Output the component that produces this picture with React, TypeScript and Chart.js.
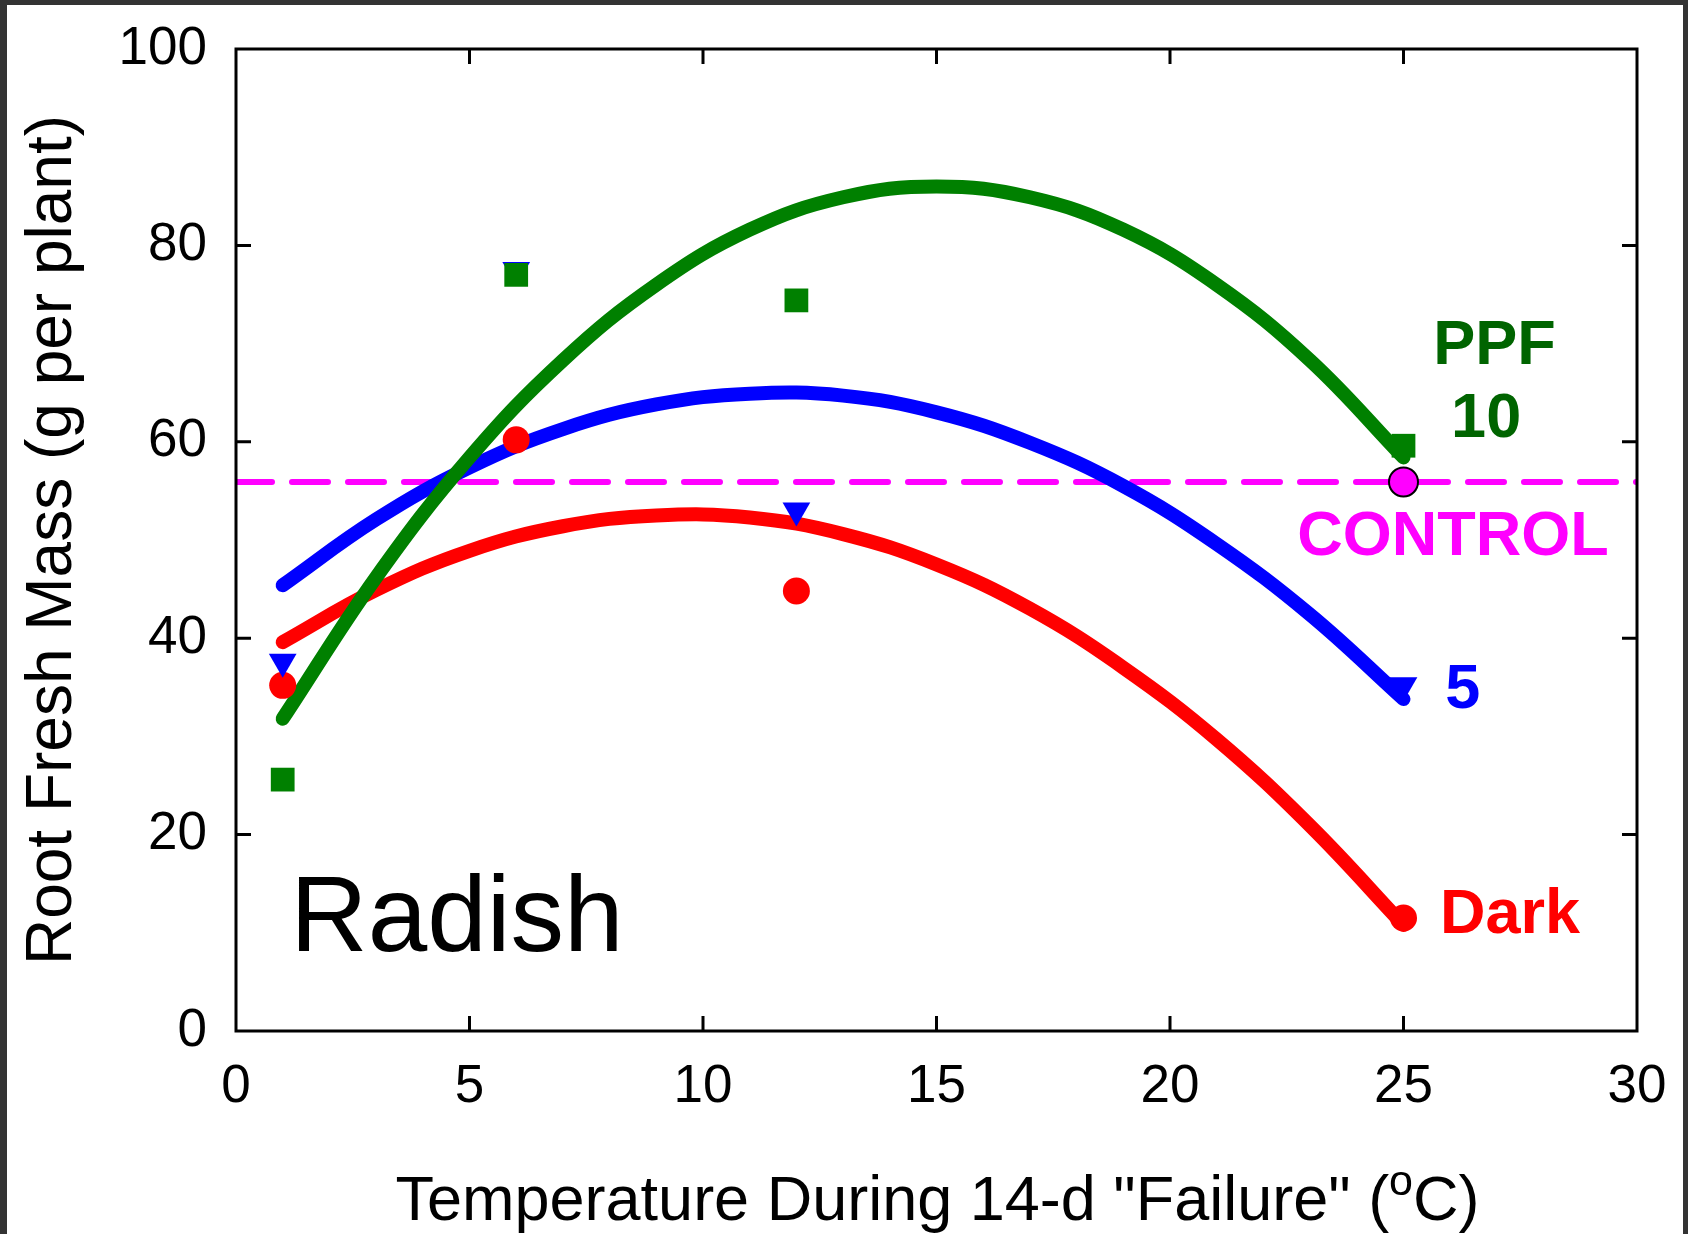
import React, { useEffect, useRef } from "react";
import { Chart, registerables } from "chart.js";

Chart.register(...registerables);

// ---- Data ----
const markerTemps = [1, 6, 12, 25];
const darkValues = [35.2, 60.2, 44.8, 11.5];
const ppf5Values = [37.6, 77.5, 53.0, 35.2];
const ppf10Values = [25.6, 77.0, 74.4, 59.6];

const controlTemp = 25;
const controlValue = 55.9;
const controlLineTemps = [0, 30];

// fitted curves, every 2 degrees
const fitTemps = [1, 3, 5, 7, 9, 11, 13, 15, 17, 19, 21, 23, 25];
const darkFit = [39.6, 44.9, 48.9, 51.4, 52.5, 52.3, 50.6, 47.5, 43.0, 37.0, 29.7, 20.9, 10.8];
const ppf5Fit = [45.4, 52.1, 57.4, 61.3, 63.8, 64.9, 64.7, 63.0, 59.9, 55.5, 49.6, 42.4, 33.8];
const ppf10Fit = [31.8, 46.2, 58.4, 68.3, 76.0, 81.6, 84.9, 86.0, 84.9, 81.6, 76.0, 68.3, 58.4];

const xTickValues = [0, 5, 10, 15, 20, 25, 30];
const yTickValues = [0, 20, 40, 60, 80, 100];

const yTitle = "Root Fresh Mass (g per plant)";
const xTitleMain = 'Temperature During 14-d "Failure" (';
const xTitleSup = "o";
const xTitleEnd = "C)";

const labelTexts = ["PPF", "10", "CONTROL", "5", "Dark", "Radish"];
const labelColors = ["#006400", "#006400", "#ff00ff", "#0000ff", "#ff0000", "#000000"];
const labelX = [26.95, 26.77, 26.06, 26.27, 27.28, 4.73];
const labelY = [69.7, 62.3, 50.2, 34.7, 11.7, 11.1];
const labelWeight = ["bold", "bold", "bold", "bold", "bold", "normal"];
const labelSize = [63, 63, 63, 63, 63, 107];

const FONT = "'Liberation Sans', Arial, Helvetica, sans-serif";

const toPts = (xs: number[], ys: number[]) => xs.map((x, i) => ({ x, y: ys[i] }));

const framePlugin = {
  id: "framePlugin",
  afterDraw(chart: any) {
    const { ctx, chartArea } = chart;
    const xs = chart.scales.x;
    const ys = chart.scales.y;
    const { left, right, top, bottom } = chartArea;
    ctx.save();
    ctx.strokeStyle = "#000";
    ctx.lineWidth = 3;
    ctx.strokeRect(left, top, right - left, bottom - top);
    const tl = 15;
    ctx.beginPath();
    xTickValues.forEach((v) => {
      if (v <= xs.min || v >= xs.max) return;
      const px = xs.getPixelForValue(v);
      ctx.moveTo(px, bottom);
      ctx.lineTo(px, bottom - tl);
      ctx.moveTo(px, top);
      ctx.lineTo(px, top + tl);
    });
    yTickValues.forEach((v) => {
      if (v <= ys.min || v >= ys.max) return;
      const py = ys.getPixelForValue(v);
      ctx.moveTo(left, py);
      ctx.lineTo(left + tl, py);
      ctx.moveTo(right, py);
      ctx.lineTo(right - tl, py);
    });
    ctx.stroke();

    // annotations
    ctx.textAlign = "center";
    ctx.textBaseline = "middle";
    labelTexts.forEach((t, i) => {
      ctx.font = `${labelWeight[i]} ${labelSize[i]}px ${FONT}`;
      ctx.fillStyle = labelColors[i];
      ctx.fillText(t, xs.getPixelForValue(labelX[i]), ys.getPixelForValue(labelY[i]));
    });

    // x axis title with superscript
    const mainFont = `63px ${FONT}`;
    const supFont = `43px ${FONT}`;
    ctx.textAlign = "left";
    ctx.textBaseline = "alphabetic";
    ctx.fillStyle = "#000";
    ctx.font = mainFont;
    const w1 = ctx.measureText(xTitleMain).width;
    const w3 = ctx.measureText(xTitleEnd).width;
    ctx.font = supFont;
    const w2 = ctx.measureText(xTitleSup).width;
    const total = w1 + w2 + w3;
    const cx = (left + right) / 2 + 1;
    const baseY = 1215;
    let sx = cx - total / 2;
    ctx.font = mainFont;
    ctx.fillText(xTitleMain, sx, baseY);
    sx += w1;
    ctx.font = supFont;
    ctx.fillText(xTitleSup, sx, baseY - 25);
    sx += w2;
    ctx.font = mainFont;
    ctx.fillText(xTitleEnd, sx, baseY);
    ctx.restore();
  },
};

export default function App() {
  const ref = useRef<HTMLCanvasElement | null>(null);

  useEffect(() => {
    if (!ref.current) return;
    Chart.defaults.font.family = FONT;
    const lineBase = {
      type: "line",
      borderWidth: 14,
      borderCapStyle: "round",
      borderJoinStyle: "round",
      tension: 0.4,
      pointRadius: 0,
      fill: false,
    };
    const chart = new Chart(ref.current, {
      type: "scatter",
      data: {
        datasets: [
          {
            type: "line",
            label: "Control",
            data: toPts(controlLineTemps, controlLineTemps.map(() => controlValue)),
            borderColor: "#ff00ff",
            borderWidth: 6,
            borderDash: [36, 20],
            borderCapStyle: "round",
            pointRadius: 0,
            fill: false,
            order: 9,
          },
          { ...lineBase, label: "Dark fit", data: toPts(fitTemps, darkFit), borderColor: "#ff0000", order: 8 },
          { ...lineBase, label: "PPF 5 fit", data: toPts(fitTemps, ppf5Fit), borderColor: "#0000ff", order: 7 },
          { ...lineBase, label: "PPF 10 fit", data: toPts(fitTemps, ppf10Fit), borderColor: "#008000", order: 6 },
          {
            label: "Dark",
            data: toPts(markerTemps, darkValues),
            pointStyle: "circle",
            pointRadius: 13.5,
            backgroundColor: "#ff0000",
            borderColor: "#ff0000",
            pointBorderWidth: 0,
            order: 5,
          },
          {
            label: "PPF 5",
            data: toPts(markerTemps, ppf5Values),
            pointStyle: "triangle",
            pointRotation: 180,
            pointRadius: 16,
            backgroundColor: "#0000ff",
            borderColor: "#0000ff",
            pointBorderWidth: 0,
            order: 4,
          },
          {
            label: "PPF 10",
            data: toPts(markerTemps, ppf10Values),
            pointStyle: "rect",
            pointRadius: 16.8,
            backgroundColor: "#008000",
            borderColor: "#008000",
            pointBorderWidth: 0,
            order: 3,
          },
          {
            label: "Control point",
            data: [{ x: controlTemp, y: controlValue }],
            pointStyle: "circle",
            pointRadius: 14.5,
            backgroundColor: "#ff00ff",
            borderColor: "#000000",
            pointBorderWidth: 2,
            order: 2,
          },
        ],
      } as any,
      options: {
        responsive: false,
        animation: false,
        devicePixelRatio: 1,
        layout: { padding: { top: 44, right: 46, bottom: 0, left: 0 } },
        plugins: {
          legend: { display: false },
          tooltip: { enabled: false },
        },
        scales: {
          x: {
            type: "linear",
            min: 0,
            max: 30,
            afterBuildTicks: (s: any) => {
              s.ticks = xTickValues.map((v) => ({ value: v }));
            },
            ticks: {
              font: { size: 53, family: FONT },
              color: "#000",
              padding: 25,
              maxRotation: 0,
              autoSkip: false,
            },
            grid: { display: false, drawTicks: false },
            border: { display: false },
            afterFit: (s: any) => {
              s.height = 203;
              s.paddingLeft = 0;
              s.paddingRight = 0;
              s.paddingTop = 0;
              s.paddingBottom = 0;
            },
          },
          y: {
            type: "linear",
            min: 0,
            max: 100,
            afterBuildTicks: (s: any) => {
              s.ticks = yTickValues.map((v) => ({ value: v }));
            },
            ticks: {
              font: { size: 53, family: FONT },
              color: "#000",
              padding: 29,
              autoSkip: false,
            },
            grid: { display: false, drawTicks: false },
            border: { display: false },
            title: {
              display: true,
              text: yTitle,
              color: "#000",
              font: { size: 64, family: FONT },
              padding: { top: 8, bottom: 0 },
            },
            afterFit: (s: any) => {
              s.width = 229;
              s.paddingLeft = 0;
              s.paddingRight = 0;
              s.paddingTop = 0;
              s.paddingBottom = 0;
            },
          },
        },
      } as any,
      plugins: [framePlugin],
    });
    return () => chart.destroy();
  }, []);

  return (
    <div
      style={{
        position: "absolute",
        left: 0,
        top: 0,
        width: 1688,
        height: 1234,
        background: "#333333",
        overflow: "hidden",
      }}
    >
      <div
        style={{
          position: "absolute",
          left: 7,
          top: 5,
          width: 1676,
          height: 1229,
          background: "#ffffff",
        }}
      >
        <canvas ref={ref} width={1676} height={1229} style={{ display: "block" }} />
      </div>
    </div>
  );
}
